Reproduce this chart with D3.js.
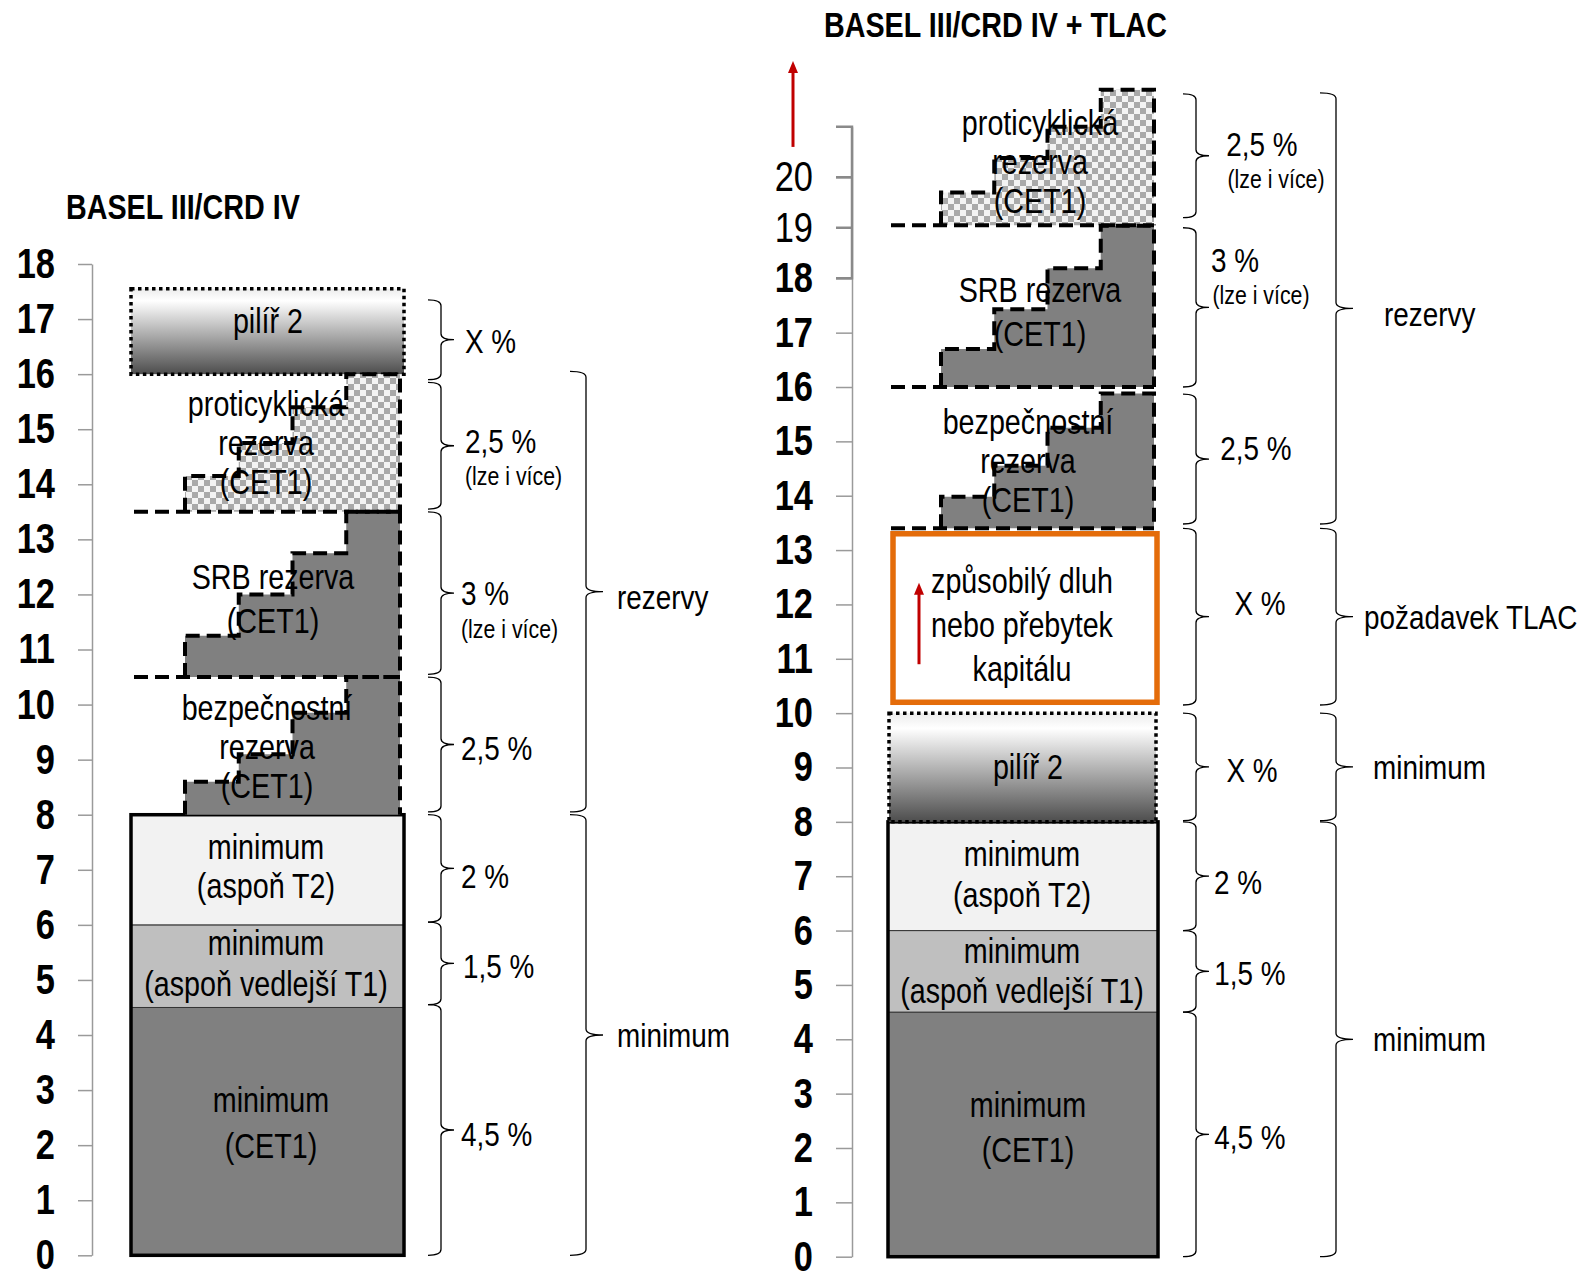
<!DOCTYPE html>
<html>
<head>
<meta charset="utf-8">
<script src="https://cdn.jsdelivr.net/npm/d3@7"></script>
<style>
  html, body { margin: 0; padding: 0; background: #fff; }
  svg { display: block; }
  text { font-family: "Liberation Sans", Arial, sans-serif; fill: #000; }
</style>
</head>
<body>
<svg id="chart" width="1586" height="1271"></svg>
<script>
// ---- Data: capital requirements, % of risk-weighted assets ----

// Minimum capital tiers, stacked bottom to top
const tierNames = ["minimum (CET1)", "minimum (aspoň vedlejší T1)", "minimum (aspoň T2)"];
const tierSizes = [4.5, 1.5, 2];

// Capital buffers: base level and the top of each phase-in step
const bufferNames = ["bezpečnostní rezerva (CET1)", "SRB rezerva (CET1)", "proticyklická rezerva (CET1)"];
const basel3BufferBase = [8, 10.5, 13.5];
const basel3BufferSteps = [
  [8.6, 9.1, 9.85, 10.5],
  [11.25, 12.0, 12.75, 13.5],
  [14.15, 14.75, 15.4, 16.0]
];
const basel3Pillar2 = [16, 17.55];

const tlacPillar2 = [8, 10];
const tlacRequirement = [10.2, 13.3];
const tlacBufferBase = [13.4, 16.0, 19.05];
const tlacBufferSteps = [
  [13.98, 14.55, 15.25, 15.88],
  [16.7, 17.43, 18.2, 19.04],
  [19.7, 20.38, 21.0, 21.73]
];
const tlacArrowUp = [20.6, 22.3];
const tlacInnerArrow = [10.9, 12.4];

// Axis ticks
const basel3Ticks = d3.range(0, 19);
const tlacTicks = d3.range(0, 22);
const tlacLabelledMax = 20;
const mainScaleMax = 18;

// Brace annotations: [from, to] in %
const basel3Braces = [[0, 4.55], [4.55, 6.05], [6.05, 8.0], [8.05, 10.5], [10.55, 13.5], [13.55, 15.85], [15.9, 17.35]];
const basel3BraceLabels = ["4,5 %", "1,5 %", "2 %", "2,5 %", "3 %", "2,5 %", "X %"];
const basel3BraceNotes = ["", "", "", "", "(lze i více)", "(lze i více)", ""];
const basel3Groups = [[0, 8], [8.05, 16.05]];
const basel3GroupLabels = ["minimum", "rezervy"];

const tlacBraces = [[0, 4.5], [4.5, 6], [6, 8], [8.02, 10], [10.15, 13.4], [13.48, 15.87], [16, 19], [19.2, 21.65]];
const tlacBraceLabels = ["4,5 %", "1,5 %", "2 %", "X %", "X %", "2,5 %", "3 %", "2,5 %"];
const tlacBraceNotes = ["", "", "", "", "", "", "(lze i více)", "(lze i více)"];
const tlacGroups = [[0, 8], [8.02, 10], [10.15, 13.4], [13.48, 21.67]];
const tlacGroupLabels = ["minimum", "minimum", "požadavek TLAC", "rezervy"];

// ---- Drawing ----
const svg = d3.select("#chart");
const defs = svg.append("defs");

// condensed lettering: regular face squeezed horizontally
const K = 0.82;
const nx = x => x / K;
const squeeze = `scale(${K},1)`;

const tierFills = ["#808080", "#bfbfbf", "#f2f2f2"];
const stepFill = "#808080";
const dash = "14,7";

// checkered fill for the countercyclical buffer
const checker = defs.append("pattern").attr("id", "checker")
  .attr("patternUnits", "userSpaceOnUse").attr("width", 12).attr("height", 12);
checker.append("rect").attr("width", 12).attr("height", 12).attr("fill", "#f3f3f3");
checker.append("rect").attr("width", 6).attr("height", 6).attr("fill", "#a9a9a9");
checker.append("rect").attr("x", 6).attr("y", 6).attr("width", 6).attr("height", 6).attr("fill", "#a9a9a9");

// pillar 2 gradient: light on top, dark at the bottom
const grad = defs.append("linearGradient").attr("id", "pillarGrad")
  .attr("x1", 0).attr("y1", 0).attr("x2", 0).attr("y2", 1);
grad.append("stop").attr("offset", "0%").attr("stop-color", "#ececec");
grad.append("stop").attr("offset", "14%").attr("stop-color", "#ffffff");
grad.append("stop").attr("offset", "100%").attr("stop-color", "#4d4d4d");

function bracePath(vx, y1, y2, w, t) {
  const ym = (y1 + y2) / 2, r = 6;
  return `M${vx - w},${y1}Q${vx},${y1} ${vx},${y1 + r}L${vx},${ym - r}Q${vx},${ym} ${vx + t},${ym}` +
         `Q${vx},${ym} ${vx},${ym + r}L${vx},${y2 - r}Q${vx},${y2} ${vx - w},${y2}`;
}

function stepOutline(xb, y, base, steps, xRight) {
  let p = `M${xb(0)},${y(base)}`;
  steps.forEach((s, i) => {
    const xr = i === steps.length - 1 ? xRight : xb(i + 1);
    p += `L${xb(i)},${y(s)}L${xr},${y(s)}`;
  });
  return p + `L${xRight},${y(base)}`;
}

function label(g, x, y, str, size, anchor, weight) {
  return g.append("text").attr("transform", squeeze)
    .attr("x", nx(x)).attr("y", y).attr("dy", "0.35em")
    .attr("text-anchor", anchor || "start").attr("font-size", size)
    .attr("font-weight", weight || "normal").text(str);
}

function multiline(g, x, yc, lines, size, lh) {
  const t = g.append("text").attr("transform", squeeze).attr("text-anchor", "middle")
    .attr("font-size", size);
  const y0 = yc - (lines.length - 1) * lh / 2;
  lines.forEach((l, i) => {
    t.append("tspan").attr("x", nx(x)).attr("y", y0 + i * lh).attr("dy", "0.35em").text(l);
  });
  return t;
}

function arrow(g, x, yFrom, yTo) {
  g.append("line").attr("x1", x).attr("x2", x).attr("y1", yFrom).attr("y2", yTo + 10)
    .attr("stroke", "#c00000").attr("stroke-width", 3);
  g.append("path").attr("d", `M${x - 5},${yTo + 12}L${x},${yTo}L${x + 5},${yTo + 12}Z`)
    .attr("fill", "#c00000");
}

function drawPanel(o) {
  const g = svg.append("g");
  const y = o.y;

  // axis
  const axis = d3.axisLeft(y).tickValues(o.ticks).tickSize(o.tickLen).tickSizeOuter(0)
    .tickPadding(o.tickPad).tickFormat(d => d <= o.labelMax ? d : "");
  const ag = g.append("g").attr("transform", `translate(${o.axisX},0)`).call(axis);
  ag.select(".domain").attr("stroke", "#9a9a9a").attr("stroke-width", 1.5);
  ag.selectAll(".tick line").attr("stroke", "#9a9a9a").attr("stroke-width", 1.5);
  ag.selectAll(".tick text").attr("font-size", 42).attr("fill", "#000")
    .attr("font-family", "'Liberation Sans', Arial, sans-serif")
    .attr("font-weight", d => d <= mainScaleMax ? "bold" : "normal")
    .each(function () {
      const t = d3.select(this);
      t.attr("x", nx(+t.attr("x"))).attr("transform", squeeze);
    });
  if (o.bracketFrom !== undefined) {
    g.append("path")
      .attr("d", `M${o.axisX - o.tickLen},${y(o.bracketFrom)}L${o.axisX},${y(o.bracketFrom)}L${o.axisX},${y(o.bracketTo)}L${o.axisX - o.tickLen},${y(o.bracketTo)}`)
      .attr("fill", "none").attr("stroke", "#8a8a8a").attr("stroke-width", 2.5);
    d3.range(o.bracketFrom + 1, o.bracketTo).forEach(v => {
      g.append("line").attr("x1", o.axisX - o.tickLen).attr("x2", o.axisX)
        .attr("y1", y(v)).attr("y2", y(v)).attr("stroke", "#8a8a8a").attr("stroke-width", 2.5);
    });
  }

  // title
  label(g, o.titleX, o.titleY, o.title, 35, "start", "bold");

  // minimum tiers
  const cum = d3.cumsum(tierSizes);
  const tiers = tierSizes.map((s, i) => ({ from: cum[i] - s, to: cum[i], name: tierNames[i] }));
  g.selectAll(".tier").data(tiers).join("rect")
    .attr("x", o.barX0).attr("width", o.barX1 - o.barX0)
    .attr("y", d => y(d.to)).attr("height", d => y(d.from) - y(d.to))
    .attr("fill", (d, i) => tierFills[i]).attr("stroke", "#333").attr("stroke-width", 1);
  g.append("rect").attr("x", o.barX0).attr("width", o.barX1 - o.barX0)
    .attr("y", y(cum[cum.length - 1])).attr("height", y(0) - y(cum[cum.length - 1]))
    .attr("fill", "none").attr("stroke", "#000").attr("stroke-width", 3.5);

  // pillar 2
  g.append("rect").attr("x", o.p2X0).attr("width", o.p2X1 - o.p2X0)
    .attr("y", y(o.pillar2[1])).attr("height", y(o.pillar2[0]) - y(o.pillar2[1]))
    .attr("fill", "url(#pillarGrad)").attr("stroke", "#000").attr("stroke-width", 3.5)
    .attr("stroke-dasharray", "3.5,3.5");

  // TLAC requirement box
  if (o.tlac) {
    g.append("rect").attr("x", o.tlacX0).attr("width", o.tlacX1 - o.tlacX0)
      .attr("y", y(o.tlac[1])).attr("height", y(o.tlac[0]) - y(o.tlac[1]))
      .attr("fill", "#fff").attr("stroke", "#e46c0a").attr("stroke-width", 5.5);
  }

  // buffer step fills
  const xb = d3.scaleBand().domain(d3.range(4)).range([o.stepX0, o.stepX1]);
  const fills = [stepFill, stepFill, "url(#checker)"];
  o.base.forEach((b, i) => {
    g.append("path").attr("d", stepOutline(xb, y, b, o.steps[i], o.stepX1) + "Z")
      .attr("fill", fills[i]).attr("stroke", "none");
  });

  // labels inside bars
  o.labels.forEach(l => multiline(g, l.x, l.y, l.lines, 35, l.lh));

  if (o.tlac) {
    arrow(g, o.innerArrowX, y(o.innerArrow[0]), y(o.innerArrow[1]));
    arrow(g, o.topArrowX, y(o.topArrow[0]), y(o.topArrow[1]));
  }

  // dashed outlines of buffers
  o.base.forEach((b, i) => {
    g.append("path").attr("d", stepOutline(xb, y, b, o.steps[i], o.stepX1))
      .attr("fill", "none").attr("stroke", "#000").attr("stroke-width", 4)
      .attr("stroke-dasharray", dash);
    if (b > cum[cum.length - 1]) {
      g.append("line").attr("x1", o.dashX0).attr("x2", o.stepX1)
        .attr("y1", y(b)).attr("y2", y(b))
        .attr("stroke", "#000").attr("stroke-width", 4).attr("stroke-dasharray", dash);
    }
  });

  // small braces
  o.braces.forEach((br, i) => {
    const y1 = y(br[1]), y2 = y(br[0]), ym = (y1 + y2) / 2;
    g.append("path").attr("d", bracePath(o.braceX, y1, y2, 13, 13))
      .attr("fill", "none").attr("stroke", "#000").attr("stroke-width", 1.3);
    const lay = o.braceLayout[i];
    label(g, lay.x, ym + lay.dy, o.braceLabels[i], 34, o.braceAnchor);
    if (o.braceNotes[i] !== "") {
      label(g, lay.nx, ym + lay.ndy, o.braceNotes[i], 26, o.braceAnchor);
    }
  });

  // group braces
  o.groups.forEach((br, i) => {
    const y1 = y(br[1]), y2 = y(br[0]), ym = (y1 + y2) / 2;
    g.append("path").attr("d", bracePath(o.groupX, y1, y2, 16, 17))
      .attr("fill", "none").attr("stroke", "#000").attr("stroke-width", 1.3);
    const lay = o.groupLayout[i];
    label(g, lay.x, ym + lay.dy, o.groupLabels[i], 34, "start");
  });
}

// Left panel: Basel III / CRD IV
const yL = d3.scaleLinear().domain([0, 18]).range([1255.3, 264]);
drawPanel({
  y: yL, ticks: basel3Ticks, labelMax: 18, axisX: 92, tickLen: 14, tickPad: 23,
  title: "BASEL III/CRD IV", titleX: 66, titleY: 207,
  barX0: 131, barX1: 404, p2X0: 131, p2X1: 404, pillar2: basel3Pillar2,
  stepX0: 185, stepX1: 400, dashX0: 134,
  base: basel3BufferBase, steps: basel3BufferSteps,
  labels: [
    { x: 268, y: 321, lines: ["pilíř 2"], lh: 39 },
    { x: 266, y: 443, lines: ["proticyklická", "rezerva", "(CET1)"], lh: 39 },
    { x: 273, y: 599, lines: ["SRB rezerva", "(CET1)"], lh: 44 },
    { x: 267, y: 747, lines: ["bezpečnostní", "rezerva", "(CET1)"], lh: 39 },
    { x: 266, y: 866, lines: ["minimum", "(aspoň T2)"], lh: 39 },
    { x: 266, y: 963, lines: ["minimum", "(aspoň vedlejší T1)"], lh: 41 },
    { x: 271, y: 1123, lines: ["minimum", "(CET1)"], lh: 46 }
  ],
  braces: basel3Braces, braceLabels: basel3BraceLabels, braceNotes: basel3BraceNotes,
  braceX: 441, braceAnchor: "start",
  braceLayout: [
    { x: 461, dy: 4 }, { x: 463, dy: 3 }, { x: 461, dy: 8 }, { x: 461, dy: 4 },
    { x: 461, dy: 0, nx: 461, ndy: 36 }, { x: 465, dy: -5, nx: 465, ndy: 30 }, { x: 465, dy: 1 }
  ],
  groups: basel3Groups, groupLabels: basel3GroupLabels, groupX: 586,
  groupLayout: [{ x: 617, dy: 0 }, { x: 617, dy: 5 }]
});

// Right panel: Basel III / CRD IV + TLAC (axis compressed above 18)
const yR = d3.scaleLinear().domain([0, 18, 21]).range([1256.7, 278.3, 126.7]);
drawPanel({
  y: yR, ticks: tlacTicks, labelMax: tlacLabelledMax, axisX: 852, tickLen: 16, tickPad: 23,
  bracketFrom: 18, bracketTo: 21,
  title: "BASEL III/CRD IV + TLAC", titleX: 824, titleY: 25,
  barX0: 888, barX1: 1158, p2X0: 889, p2X1: 1156, pillar2: tlacPillar2,
  tlac: tlacRequirement, tlacX0: 893, tlacX1: 1157,
  innerArrow: tlacInnerArrow, innerArrowX: 919,
  topArrow: tlacArrowUp, topArrowX: 793,
  stepX0: 941, stepX1: 1154, dashX0: 891,
  base: tlacBufferBase, steps: tlacBufferSteps,
  labels: [
    { x: 1040, y: 162, lines: ["proticyklická", "rezerva", "(CET1)"], lh: 39 },
    { x: 1040, y: 312, lines: ["SRB rezerva", "(CET1)"], lh: 44 },
    { x: 1028, y: 461, lines: ["bezpečnostní", "rezerva", "(CET1)"], lh: 39 },
    { x: 1022, y: 625, lines: ["způsobilý dluh", "nebo přebytek", "kapitálu"], lh: 44 },
    { x: 1028, y: 767, lines: ["pilíř 2"], lh: 39 },
    { x: 1022, y: 874, lines: ["minimum", "(aspoň T2)"], lh: 41 },
    { x: 1022, y: 971, lines: ["minimum", "(aspoň vedlejší T1)"], lh: 40 },
    { x: 1028, y: 1127, lines: ["minimum", "(CET1)"], lh: 45 }
  ],
  braces: tlacBraces, braceLabels: tlacBraceLabels, braceNotes: tlacBraceNotes,
  braceX: 1196, braceAnchor: "middle",
  braceLayout: [
    { x: 1250, dy: 3 }, { x: 1250, dy: 2 }, { x: 1238, dy: 6 }, { x: 1252, dy: 3 },
    { x: 1260, dy: -14 }, { x: 1256, dy: -11 },
    { x: 1235, dy: -47, nx: 1261, ndy: -12 }, { x: 1262, dy: -12, nx: 1276, ndy: 23 }
  ],
  groups: tlacGroups, groupLabels: tlacGroupLabels, groupX: 1336,
  groupLayout: [{ x: 1373, dy: 0 }, { x: 1373, dy: 0 }, { x: 1364, dy: 0 }, { x: 1384, dy: 6 }]
});
</script>
</body>
</html>
